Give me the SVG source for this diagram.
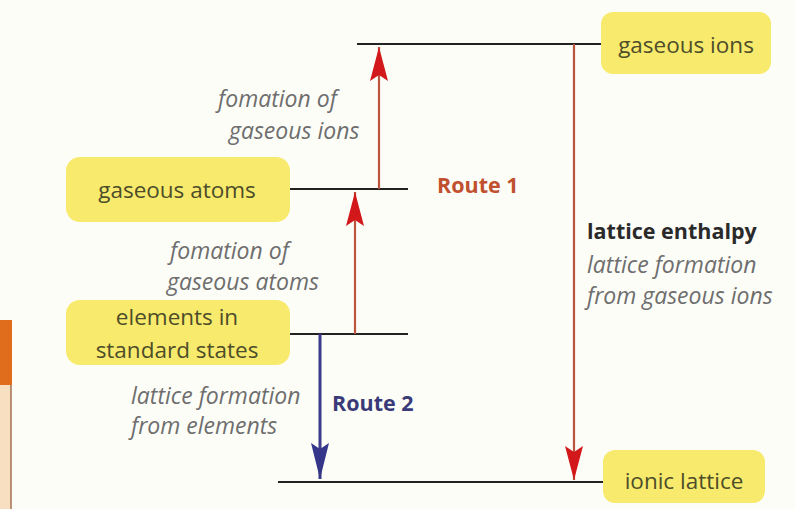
<svg xmlns="http://www.w3.org/2000/svg" width="795" height="509" viewBox="0 0 795 509">
<defs>
<style>
.box{fill:#f8ea6c;}
.bt{font-family:"Open Sans","Liberation Sans",sans-serif;font-size:22.5px;fill:#4d4d2a;text-anchor:middle;}
.it{font-family:"Open Sans","Liberation Sans",sans-serif;font-size:23px;font-style:italic;fill:#6e6e6e;}
.bd{font-family:"Open Sans","Liberation Sans",sans-serif;font-size:21.5px;font-weight:bold;}
.lvl{stroke:#222;stroke-width:2.2;fill:none;}
.red{stroke:#b9553e;stroke-width:2.2;fill:none;}
.blue{stroke:#3b3b8c;stroke-width:3;fill:none;}
</style>
<marker id="ah-red" viewBox="0 0 34 18" refX="34" refY="9" markerWidth="34" markerHeight="18" markerUnits="userSpaceOnUse" orient="auto">
<path d="M0,0 L34,9 L0,18 L6,9 Z" fill="#d2181a"/>
</marker>
<marker id="ah-blue" viewBox="0 0 36 18" refX="36" refY="9" markerWidth="36" markerHeight="18" markerUnits="userSpaceOnUse" orient="auto">
<path d="M0,0 L36,9 L0,18 L6,9 Z" fill="#35358a"/>
</marker>
</defs>
<rect width="795" height="509" fill="#fdfdf8"/>
<g id="sidebar">
<rect x="0" y="320" width="12" height="65" fill="#e06d1c"/>
<rect x="0" y="385" width="11" height="124" fill="#f9dfc2"/>
<line x1="11" y1="385" x2="11" y2="509" stroke="#a07050" stroke-width="1.5"/>
</g>
<g id="connectors">
<line class="lvl" x1="357" y1="44" x2="603" y2="44"/>
<line class="lvl" x1="290" y1="189" x2="408" y2="189"/>
<line class="lvl" x1="290" y1="334" x2="408" y2="334"/>
<line class="lvl" x1="278" y1="482" x2="603" y2="482"/>
<line class="red" x1="379" y1="189" x2="379" y2="47" marker-end="url(#ah-red)"/>
<line class="red" x1="355" y1="334" x2="355" y2="192" marker-end="url(#ah-red)"/>
<line class="red" x1="574" y1="44" x2="574" y2="480" marker-end="url(#ah-red)"/>
<line class="blue" x1="320" y1="334" x2="320" y2="479" marker-end="url(#ah-blue)"/>
</g>
<g id="gaseous-ions">
<rect class="box" x="601" y="12" width="170" height="62" rx="12"/>
<text class="bt" x="686" y="53">gaseous ions</text>
</g>
<g id="gaseous-atoms">
<rect class="box" x="66" y="157" width="224" height="65" rx="14"/>
<text class="bt" x="177" y="198">gaseous atoms</text>
</g>
<g id="elements">
<rect class="box" x="66" y="300" width="224" height="65" rx="14"/>
<text class="bt" x="177" y="325">elements in</text>
<text class="bt" x="177" y="358">standard states</text>
</g>
<g id="ionic-lattice">
<rect class="box" x="603" y="450" width="162" height="53" rx="12"/>
<text class="bt" x="684" y="489">ionic lattice</text>
</g>
<g id="labels">
<text class="it" x="218" y="107">fomation of</text>
<text class="it" x="229" y="139">gaseous ions</text>
<text class="it" x="170" y="259" font-size="22">fomation of</text>
<text class="it" x="167" y="290" font-size="22">gaseous atoms</text>
<text class="it" x="131" y="404">lattice formation</text>
<text class="it" x="131" y="434">from elements</text>
<text class="bd" x="437" y="193" fill="#c0502e">Route 1</text>
<text class="bd" x="332" y="411" fill="#3a3a78">Route 2</text>
<text class="bd" x="587" y="239" fill="#2a2a2a">lattice enthalpy</text>
<text class="it" x="587" y="273">lattice formation</text>
<text class="it" x="587" y="304">from gaseous ions</text>
</g>
</svg>
